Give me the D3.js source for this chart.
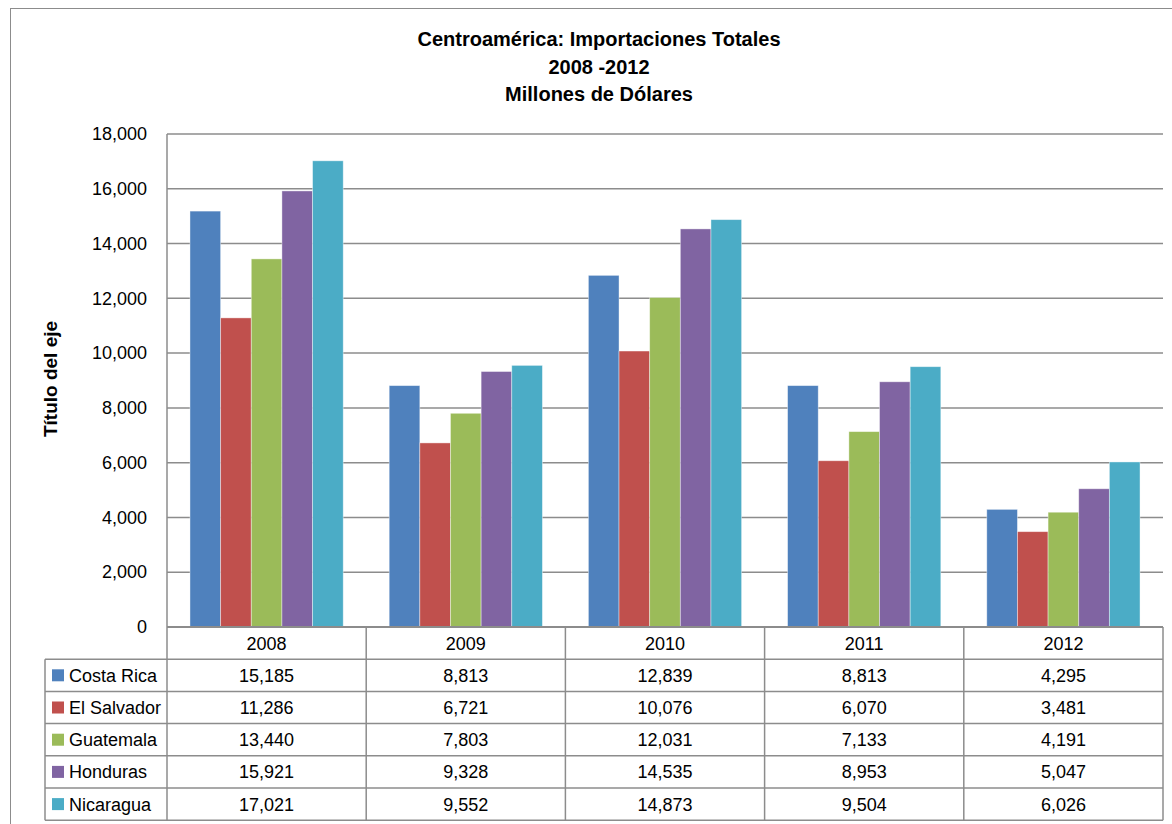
<!DOCTYPE html>
<html><head><meta charset="utf-8">
<script src="https://cdn.jsdelivr.net/npm/d3@7"></script>
<style>body{margin:0;background:#fff}svg{display:block}</style>
</head><body>
<script>
const years = ["2008","2009","2010","2011","2012"];
const countries = ["Costa Rica","El Salvador","Guatemala","Honduras","Nicaragua"];
const costaRica  = [15185, 8813, 12839, 8813, 4295];
const elSalvador = [11286, 6721, 10076, 6070, 3481];
const guatemala  = [13440, 7803, 12031, 7133, 4191];
const honduras   = [15921, 9328, 14535, 8953, 5047];
const nicaragua  = [17021, 9552, 14873, 9504, 6026];
const yTicks = [0,2000,4000,6000,8000,10000,12000,14000,16000,18000];
const colors = ["#4F81BD","#C0504D","#9BBB59","#8064A2","#4BACC6"];
const titleLines = ["Centroamérica: Importaciones Totales","2008 -2012","Millones de Dólares"];
const yTitle = "Título del eje";

const series = [costaRica, elSalvador, guatemala, honduras, nicaragua];
const W = 1172, H = 824;
const svg = d3.select("body").append("svg").attr("width", W).attr("height", H);
const font = "'Liberation Sans', Arial, sans-serif";
const grid = "#8c8c8c";

// outer frame
svg.append("rect").attr("x",10.5).attr("y",8.5).attr("width",W+20).attr("height",H+20)
  .attr("fill","none").attr("stroke","#8c8c8c").attr("stroke-width",1);

const L = 167, R = 1163, T = 134, B = 627;
const x = d3.scaleBand().domain(years).range([L,R]).paddingInner(0).paddingOuter(0);
const y = d3.scaleLinear().domain([0,18000]).range([B,T]);
const gw = x.bandwidth();
const barW = gw/(5+1.5);
const xs = d3.scaleBand().domain(d3.range(5)).range([0.75*barW, gw-0.75*barW]).padding(0);

// gridlines
svg.append("g").selectAll("line").data(yTicks.filter(d=>d>0)).join("line")
  .attr("x1",L).attr("x2",R).attr("y1",d=>y(d)).attr("y2",d=>y(d))
  .attr("stroke",grid).attr("stroke-width",1.5);

// y axis
const yAxis = d3.axisLeft(y).tickValues(yTicks).tickFormat(d3.format(",")).tickSize(0).tickPadding(20);
const ya = svg.append("g").attr("transform",`translate(${L},0)`).call(yAxis);
ya.select(".domain").remove();
ya.selectAll("text").attr("font-family",font).attr("font-size",18).attr("fill","#000");

// bars
const gs = svg.append("g").selectAll("g").data(series).join("g").attr("fill",(d,i)=>colors[i]);
gs.each(function(vals, si){
  d3.select(this).selectAll("rect").data(vals).join("rect")
    .attr("x",(d,i)=>x(years[i])+xs(si))
    .attr("width",xs.bandwidth())
    .attr("y",d=>y(d)).attr("height",d=>B-y(d))
    .attr("stroke","rgba(255,255,255,0.5)").attr("stroke-width",0.8);
});

// plot left border
svg.append("line").attr("x1",L).attr("x2",L).attr("y1",T).attr("y2",B).attr("stroke",grid).attr("stroke-width",1.5);

// data table
const rowH = 32.2;
const tg = svg.append("g");
const legL = 45;
years.forEach((yr,i)=>{
  tg.append("text").attr("x",x(yr)+gw/2).attr("y",B+rowH/2).attr("dy","0.36em")
    .attr("text-anchor","middle").attr("font-family",font).attr("font-size",18).text(yr);
});
series.forEach((vals,si)=>{
  const ry = B + rowH*(si+1);
  tg.append("rect").attr("x",legL+7).attr("y",ry+rowH/2-6).attr("width",12).attr("height",12).attr("fill",colors[si]);
  tg.append("text").attr("x",legL+24).attr("y",ry+rowH/2).attr("dy","0.36em")
    .attr("font-family",font).attr("font-size",18).text(countries[si]);
  vals.forEach((v,i)=>{
    tg.append("text").attr("x",x(years[i])+gw/2).attr("y",ry+rowH/2).attr("dy","0.36em")
      .attr("text-anchor","middle").attr("font-family",font).attr("font-size",18).text(d3.format(",")(v));
  });
});
const tb = B + rowH*6;
for(let r=0;r<=6;r++){
  const yy = B + rowH*r;
  tg.append("line").attr("x1", r===0?L:legL).attr("x2",R).attr("y1",yy).attr("y2",yy).attr("stroke",grid).attr("stroke-width",r===0?2:1.5);
}
years.forEach(yr=>{
  tg.append("line").attr("x1",x(yr)).attr("x2",x(yr)).attr("y1",B).attr("y2",tb).attr("stroke",grid).attr("stroke-width",1.5);
});
tg.append("line").attr("x1",R).attr("x2",R).attr("y1",B).attr("y2",tb).attr("stroke",grid).attr("stroke-width",1.5);
tg.append("line").attr("x1",legL).attr("x2",legL).attr("y1",B+rowH).attr("y2",tb).attr("stroke",grid).attr("stroke-width",1.5);

// title
const tt = svg.append("text").attr("text-anchor","middle").attr("font-family",font)
  .attr("font-weight","bold").attr("font-size",20);
titleLines.forEach((t,i)=>tt.append("tspan").attr("x",599).attr("y",46+i*27.5).text(t));

// y title
svg.append("text").attr("transform",`translate(57,379) rotate(-90)`).attr("text-anchor","middle")
  .attr("font-family",font).attr("font-weight","bold").attr("font-size",19).text(yTitle);
</script>
</body></html>
